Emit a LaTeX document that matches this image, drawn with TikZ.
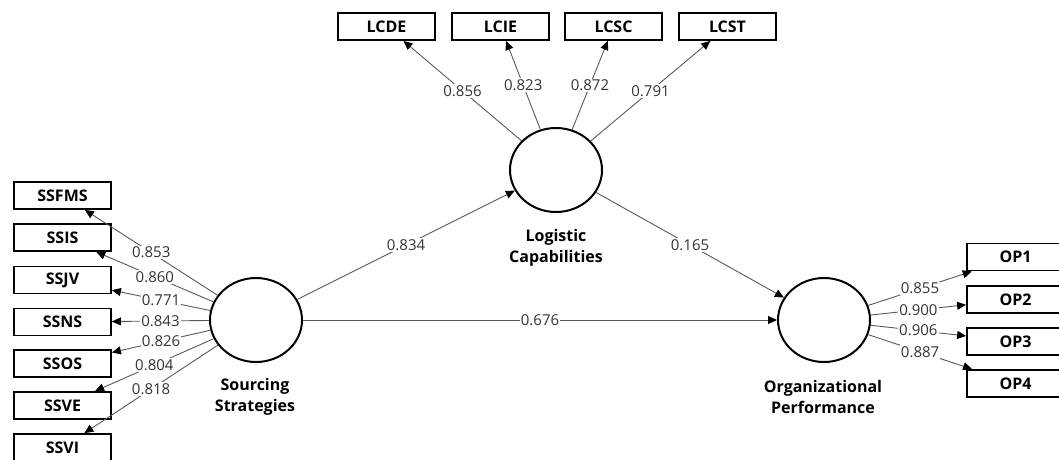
\documentclass[tikz,border=0pt]{standalone}
\usepackage{fontspec}
\setmainfont{Open Sans}
\usetikzlibrary{shapes.geometric,arrows.meta}
\begin{document}
\begin{tikzpicture}[x=1pt,y=-1pt,
  lv/.style={draw, line width=2pt, ellipse, minimum width=92pt, minimum height=84pt, inner sep=0pt},
  ind/.style={draw, line width=1.8pt, rectangle, minimum width=97pt, minimum height=27pt, inner sep=0pt, font=\bfseries\fontsize{16}{18}\selectfont},
  conn/.style={line width=0.9pt, draw=black!65, -{Triangle[length=9pt,width=8pt,color=black]}},
  lbl/.style={fill=white, inner sep=1.2pt, text=black!80, font=\fontsize{15}{17}\selectfont},
  lvcap/.style={align=center, font=\bfseries\fontsize{16}{21}\selectfont}
]
\useasboundingbox (0,0) rectangle (1059,459);
% latent variables
\node[lv] (ss) at (256,320) {};
\node[lv] (lc) at (556,170) {};
\node[lv] (op) at (824,320) {};
\node[lvcap] (ssc) at (255,397) {Sourcing\\Strategies};
\node[lvcap] (lcc) at (556,248) {Logistic\\Capabilities};
\node[lvcap] (opc) at (823,397) {Organizational\\Performance};
% indicators left
\node[ind] (ssfms) at (62.5,195.5) {SSFMS};
\node[ind] (ssis) at (62.5,237.5) {SSIS};
\node[ind] (ssjv) at (62.5,280) {SSJV};
\node[ind] (ssns) at (62.5,322) {SSNS};
\node[ind] (ssos) at (62.5,363.5) {SSOS};
\node[ind] (ssve) at (62.5,405.5) {SSVE};
\node[ind] (ssvi) at (62.5,447.5) {SSVI};
% indicators top
\node[ind] (lcde) at (386.5,26.5) {LCDE};
\node[ind] (lcie) at (500.5,26.5) {LCIE};
\node[ind] (lcsc) at (613.5,26.5) {LCSC};
\node[ind] (lcst) at (727.5,26.5) {LCST};
% indicators right
\node[ind] (op1) at (1015.5,257) {OP1};
\node[ind] (op2) at (1015.5,299.5) {OP2};
\node[ind] (op3) at (1015.5,341.5) {OP3};
\node[ind] (op4) at (1015.5,383.5) {OP4};
% outer loadings
\draw[conn] (ss) -- node[lbl]{0.853} (ssfms);
\draw[conn] (ss) -- node[lbl]{0.860} (ssis);
\draw[conn] (ss) -- node[lbl]{0.771} (ssjv);
\draw[conn] (ss) -- node[lbl]{0.843} (ssns);
\draw[conn] (ss) -- node[lbl]{0.826} (ssos);
\draw[conn] (ss) -- node[lbl]{0.804} (ssve);
\draw[conn] (ss) -- node[lbl]{0.818} (ssvi);
\draw[conn] (lc) -- node[lbl]{0.856} (lcde);
\draw[conn] (lc) -- node[lbl]{0.823} (lcie);
\draw[conn] (lc) -- node[lbl]{0.872} (lcsc);
\draw[conn] (lc) -- node[lbl]{0.791} (lcst);
\draw[conn] (op) -- node[lbl]{0.855} (op1);
\draw[conn] (op) -- node[lbl]{0.900} (op2);
\draw[conn] (op) -- node[lbl]{0.906} (op3);
\draw[conn] (op) -- node[lbl]{0.887} (op4);
% structural paths
\draw[conn] (ss) -- node[lbl]{0.834} (lc);
\draw[conn] (lc) -- node[lbl]{0.165} (op);
\draw[conn] (ss) -- node[lbl]{0.676} (op);
\end{tikzpicture}
\end{document}
